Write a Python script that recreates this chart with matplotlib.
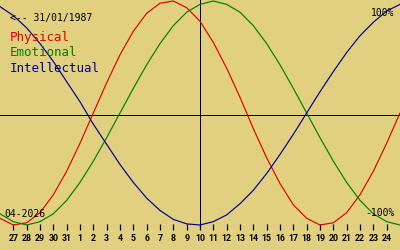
import matplotlib
matplotlib.use("Agg")
import matplotlib.pyplot as plt

# ---- data ----
day_offsets = list(range(-15, 16))          # days relative to 10/04/2026
physical = [-0.94, -1.00, -0.98, -0.89, -0.73, -0.52, -0.27, 0.00, 0.27, 0.52,
            0.73, 0.89, 0.98, 1.00, 0.94, 0.82, 0.63, 0.40, 0.14, -0.14,
            -0.40, -0.63, -0.82, -0.94, -1.00, -0.98, -0.89, -0.73, -0.52, -0.27, 0.00]
emotional = [-0.90, -0.97, -1.00, -0.97, -0.90, -0.78, -0.62, -0.43, -0.22, 0.00,
             0.22, 0.43, 0.62, 0.78, 0.90, 0.97, 1.00, 0.97, 0.90, 0.78,
             0.62, 0.43, 0.22, 0.00, -0.22, -0.43, -0.62, -0.78, -0.90, -0.97, -1.00]
intellectual = [0.95, 0.87, 0.76, 0.62, 0.46, 0.28, 0.10, -0.10, -0.28, -0.46,
                -0.62, -0.76, -0.87, -0.95, -0.99, -1.00, -0.97, -0.91, -0.81, -0.69,
                -0.54, -0.37, -0.19, 0.00, 0.19, 0.37, 0.54, 0.69, 0.81, 0.91, 0.97]
tick_offsets = list(range(-14, 15))
tick_labels = ["27", "28", "29", "30", "31"] + [str(i) for i in range(1, 25)]
birth_label = "<-- 31/01/1987"
month_label = "04-2026"
series_names = ["Physical", "Emotional", "Intellectual"]

BG = "#E0D080"
RED = "#E00000"
GREEN = "#008000"
BLUE = "#000090"
W, H = 400, 250

fig = plt.figure(figsize=(4, 2.5), dpi=100, facecolor=BG)
# axes occupies pixel rows 0..230
ax = fig.add_axes([0, 20 / H, 1, 230 / H])
ax.set_facecolor(BG)
for s in ax.spines.values():
    s.set_visible(False)

# vertical mapping: value v -> pixel y = 113 - 112 v
ax.set_xlim(-15, 15)
ax.set_ylim((113 - 230) / 112, 113 / 112)

ax.axhline((113 - 115) / 112, color="black", lw=0.72, antialiased=False)
ax.axvline(0, color="black", lw=0.72, antialiased=False)

lw = 0.85
ax.plot(day_offsets, physical, color=RED, lw=lw)
ax.plot(day_offsets, emotional, color=GREEN, lw=lw)
ax.plot(day_offsets, intellectual, color=BLUE, lw=lw)

ax.set_yticks([])
ax.set_xticks(tick_offsets)
ax.set_xticklabels(tick_labels, family=["Roboto", "DejaVu Sans"],
                   fontsize=6.3, fontweight="bold")
ax.tick_params(axis="x", direction="in", length=4, width=0.9, pad=3.2,
               color="black", labelcolor="black")


def ftext(x, y, s, **kw):
    fig.text(x / W, 1 - y / H, s, **kw)


mono = "DejaVu Sans Mono"
ftext(10, 21, birth_label, family=mono, fontsize=7, va="baseline", color="black")
ftext(10, 41.5, series_names[0], family=mono, fontsize=9, va="baseline", color=RED)
ftext(10, 56.5, series_names[1], family=mono, fontsize=9, va="baseline", color=GREEN)
ftext(10, 71.5, series_names[2], family=mono, fontsize=9, va="baseline", color=BLUE)
ftext(4, 217, month_label, family=mono, fontsize=7, va="baseline", color="black")
ftext(394, 16, "100%", family=mono, fontsize=7, va="baseline", ha="right", color="black")
ftext(395, 216, "-100%", family=mono, fontsize=7, va="baseline", ha="right", color="black")

fig.savefig("out.png", dpi=100, facecolor=BG)
